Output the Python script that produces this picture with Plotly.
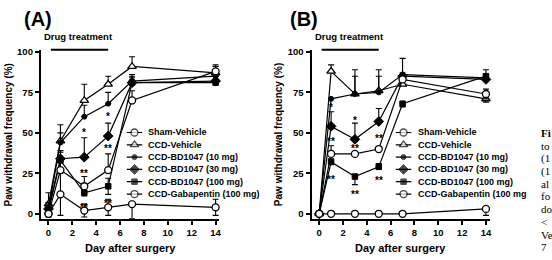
import plotly.graph_objects as go

W, H = 552, 260
FONT = "Liberation Sans, Arial, sans-serif"
SERIF = "Liberation Serif, Times New Roman, serif"

days = [0, 1, 3, 5, 7, 14]
names = ["Sham-Vehicle", "CCD-Vehicle", "CCD-BD1047 (10 mg)", "CCD-BD1047 (30 mg)",
         "CCD-BD1047 (100 mg)", "CCD-Gabapentin (100 mg)"]
names_b = names[:5] + ["CCD-Gabapentin (100 mg"]

# Panel A values (mean, upper error, lower error)
a_sham = [0, 12, 2, 4, 6, 4]
a_sham_up = [2, 13, 4, 5, 9, 5]
a_sham_dn = [2, 13, 4, 5, 9, 5]
a_veh = [6, 45, 70, 80, 91, 87]
a_veh_up = [7, 10, 10, 5, 6, 4]
a_veh_dn = [0, 0, 0, 0, 0, 0]
a_10 = [3, 44, 60, 68, 82, 85]
a_10_up = [3, 6, 7, 7, 4, 3]
a_10_dn = [0, 0, 0, 0, 0, 0]
a_30 = [3, 34, 35, 48, 81, 82]
a_30_up = [4, 5, 12, 8, 4, 3]
a_30_dn = [0, 0, 0, 0, 0, 0]
a_100 = [2, 33, 13, 17, 81, 81]
a_100_up = [3, 5, 4, 5, 3, 2]
a_100_dn = [0, 0, 2, 5, 0, 0]
a_gaba = [0, 27, 17, 27, 70, 88]
a_gaba_up = [2, 5, 6, 10, 6, 4]
a_gaba_dn = [0, 0, 0, 0, 0, 0]

# Panel B values
b_sham = [0, 0, 0, 0, 0, 3]
b_sham_up = [0, 0, 0, 0, 0, 0]
b_sham_dn = [0, 0, 0, 0, 0, 4]
b_veh = [0, 88, 74, 76, 80, 71]
b_veh_up = [0, 4, 15, 13, 4, 0]
b_veh_dn = [0, 0, 0, 0, 0, 2]
b_10 = [0, 71, 74, 75, 86, 84]
b_10_up = [0, 0, 11, 10, 10, 5]
b_10_dn = [0, 0, 0, 0, 0, 0]
b_30 = [0, 54, 46, 57, 85, 83]
b_30_up = [0, 9, 10, 8, 0, 3]
b_30_dn = [0, 0, 0, 0, 0, 0]
b_100 = [0, 32, 23, 29, 68, 85]
b_100_up = [0, 2, 0, 2, 0, 0]
b_100_dn = [0, 0, 5, 0, 2, 0]
b_gaba = [0, 37, 37, 40, 83, 74]
b_gaba_up = [0, 5, 0, 0, 4, 3]
b_gaba_dn = [0, 0, 0, 0, 0, 3]

# significance marks
a_star_day = [3, 3, 3, 5, 5, 5]
a_star_val = [52, 27, 6, 62, 42, 8.5]
a_star_txt = ["*", "**", "**", "*", "**", "**"]
b_star_day = [1, 1, 1, 3, 3, 3, 5, 5]
b_star_val = [67.5, 46.5, 23, 59.6, 42.4, 14, 48.5, 22.6]
b_star_txt = ["*", "**", "**", "*", "**", "**", "**", "**"]

drug_days = [0.2, 5.0]
xticks = [0, 2, 4, 6, 8, 10, 12, 14]
yticks = [0, 25, 50, 75, 100]

caption = ["<b>Fi</b>", "to", "(1", "(1", "al", "fo", "do", "&lt;", "Ve", "7"]

symbols = ["circle", "triangle-up", "circle", "diamond", "square", "circle"]
fills = ["white", "white", "black", "black", "black", "white"]
sizes = [7, 7.5, 5, 7.5, 5.5, 7]
lwidths = [1.3, 1.3, 1, 1, 1, 1.3]


def px(x):
    return x / W


def py(y):
    return 1 - y / H


XR = [-0.64, 14.3]
YR = [-3, 101]
domA = [px(41), px(220)]
domB = [px(312.7), px(491.3)]
ydom = [py(218), py(47)]


def xpaper(dom, d):
    return dom[0] + (d - XR[0]) / (XR[1] - XR[0]) * (dom[1] - dom[0])


fig = go.Figure()

panels = [
    ("x", "y", [a_sham, a_veh, a_10, a_30, a_100, a_gaba],
     [a_sham_up, a_veh_up, a_10_up, a_30_up, a_100_up, a_gaba_up],
     [a_sham_dn, a_veh_dn, a_10_dn, a_30_dn, a_100_dn, a_gaba_dn]),
    ("x2", "y2", [b_sham, b_veh, b_10, b_30, b_100, b_gaba],
     [b_sham_up, b_veh_up, b_10_up, b_30_up, b_100_up, b_gaba_up],
     [b_sham_dn, b_veh_dn, b_10_dn, b_30_dn, b_100_dn, b_gaba_dn]),
]

for xa, ya, vals, ups, dns in panels:
    for i in range(6):
        fig.add_trace(go.Scatter(
            x=days, y=vals[i], xaxis=xa, yaxis=ya, mode="lines+markers",
            line=dict(color="black", width=1.2),
            marker=dict(symbol=symbols[i], size=sizes[i], color=fills[i],
                        line=dict(color="black", width=lwidths[i])),
            error_y=dict(type="data", symmetric=False, array=ups[i], arrayminus=dns[i],
                         color="black", thickness=1.1, width=3),
            cliponaxis=False, showlegend=False, hoverinfo="skip"))

# custom legends on hidden helper axes
for xa, ya, lbls in [("x3", "y3", names), ("x4", "y4", names_b)]:
    for i in range(6):
        fig.add_trace(go.Scatter(
            x=[0, 0.5, 1], y=[i, i, i], xaxis=xa, yaxis=ya, mode="lines+markers",
            line=dict(color="black", width=1.2),
            marker=dict(symbol=symbols[i], size=[0, sizes[i], 0], color=fills[i],
                        line=dict(color="black", width=[0, lwidths[i], 0])),
            cliponaxis=False, showlegend=False, hoverinfo="skip"))
        fig.add_annotation(x=1, y=i, xref=xa, yref=ya, text="<b>%s</b>" % lbls[i],
                           showarrow=False, xanchor="left", yanchor="middle", xshift=4,
                           font=dict(family=FONT, size=9, color="black"))

axis_common = dict(range=XR, showline=True, linecolor="black", linewidth=2, ticks="outside",
                   ticklen=4, tickwidth=1.5, tickcolor="black", tickvals=xticks,
                   showgrid=False, zeroline=False,
                   tickfont=dict(family=FONT, size=9.5, color="black", weight="bold"))
yaxis_common = dict(range=YR, domain=ydom, showline=True, linecolor="black", linewidth=2,
                    ticks="outside", ticklen=4, tickwidth=1.5, tickcolor="black",
                    tickvals=yticks, showgrid=False, zeroline=False,
                    tickfont=dict(family=FONT, size=9.5, color="black", weight="bold"))

leg_ydom = [py(199.25), py(124.25)]
hidden = dict(visible=False, showgrid=False, zeroline=False, fixedrange=True)

fig.update_layout(
    width=W, height=H, margin=dict(l=0, r=0, t=0, b=0),
    paper_bgcolor="white", plot_bgcolor="white", showlegend=False,
    xaxis=dict(domain=domA, anchor="y", **axis_common),
    yaxis=dict(anchor="x", **yaxis_common),
    xaxis2=dict(domain=domB, anchor="y2", **axis_common),
    yaxis2=dict(anchor="x2", **yaxis_common),
    xaxis3=dict(domain=[px(127), px(143)], range=[0, 1], anchor="y3", **hidden),
    yaxis3=dict(domain=leg_ydom, range=[5.5, -0.5], anchor="x3", **hidden),
    xaxis4=dict(domain=[px(397), px(413)], range=[0, 1], anchor="y4", **hidden),
    yaxis4=dict(domain=leg_ydom, range=[5.5, -0.5], anchor="x4", **hidden),
)

# stars
for xa, ya, sd, sv, st in [("x", "y", a_star_day, a_star_val, a_star_txt),
                           ("x2", "y2", b_star_day, b_star_val, b_star_txt)]:
    for d, v, t in zip(sd, sv, st):
        fig.add_annotation(x=d, y=v, xref=xa, yref=ya, text="<b>%s</b>" % t, showarrow=False,
                           xanchor="center", yanchor="middle", yshift=-3,
                           font=dict(family=FONT, size=10, color="black"))

# panel decorations
for dom, label, lx in [(domA, "(A)", 38), (domB, "(B)", 305)]:
    fig.add_annotation(x=px(lx), y=py(15), xref="paper", yref="paper", text="<b>%s</b>" % label,
                       showarrow=False, xanchor="center", yanchor="middle",
                       font=dict(family=FONT, size=20, color="black"))
    x0 = xpaper(dom, drug_days[0])
    x1 = xpaper(dom, drug_days[1])
    fig.add_shape(type="line", xref="paper", yref="paper", x0=x0, x1=x1, y0=py(46.5), y1=py(46.5),
                  line=dict(color="black", width=2))
    fig.add_annotation(x=(x0 + x1) / 2 - px(1), y=py(33), xref="paper", yref="paper",
                       text="<b>Drug treatment</b>", showarrow=False, xanchor="center", yanchor="middle",
                       font=dict(family=FONT, size=9.5, color="black"))
    fig.add_annotation(x=(dom[0] + dom[1]) / 2, y=py(248), xref="paper", yref="paper",
                       text="<b>Day after surgery</b>", showarrow=False, xanchor="center",
                       yanchor="middle", font=dict(family=FONT, size=11, color="black"))
    fig.add_annotation(x=dom[0] - px(33), y=(ydom[0] + ydom[1]) / 2, xref="paper", yref="paper",
                       text="<b>Paw withdrawal frequency (%)</b>", showarrow=False, textangle=-90,
                       xanchor="center", yanchor="middle",
                       font=dict(family=FONT, size=10, color="black"))

# cropped caption column on the right
for i, t in enumerate(caption):
    fig.add_annotation(x=px(541), y=py(131 + 12.9 * i), xref="paper", yref="paper", text=t,
                       showarrow=False, xanchor="left", yanchor="middle",
                       font=dict(family=SERIF, size=11, color="black"))

fig.write_html("out.html")
